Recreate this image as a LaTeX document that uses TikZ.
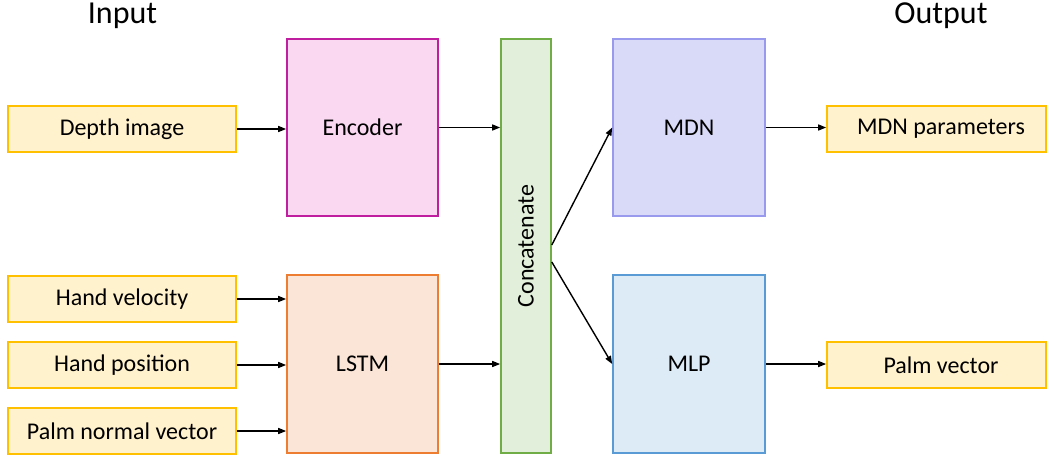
\documentclass[tikz,border=0pt]{standalone}
\usepackage{fontspec}
\setmainfont{Carlito}
\usetikzlibrary{arrows.meta}
\definecolor{inFill}{HTML}{FFF2CC}
\definecolor{inDraw}{HTML}{FFC000}
\definecolor{encFill}{HTML}{FAD8F2}
\definecolor{encDraw}{HTML}{BF1E9E}
\definecolor{lstmFill}{HTML}{FBE5D6}
\definecolor{lstmDraw}{HTML}{ED7D31}
\definecolor{catFill}{HTML}{E2EFDA}
\definecolor{catDraw}{HTML}{70AD47}
\definecolor{mdnFill}{HTML}{D9D9F8}
\definecolor{mdnDraw}{HTML}{9999EE}
\definecolor{mlpFill}{HTML}{DDEBF7}
\definecolor{mlpDraw}{HTML}{5B9BD5}
\tikzset{
  iobox/.style={draw=inDraw, fill=inFill, line width=1.6pt, minimum width=228pt, minimum height=46pt, inner sep=0pt, font=\fontsize{24}{28}\selectfont},
  blockbox/.style={line width=1.6pt, minimum width=151pt, minimum height=177pt, inner sep=0pt, font=\fontsize{24}{28}\selectfont},
  title/.style={font=\fontsize{32}{38}\selectfont, inner sep=0pt},
  conn/.style={line width=1.4pt, -{Triangle[length=8pt,width=6pt]}}
}
\begin{document}
\begin{tikzpicture}[x=1pt,y=-1pt]
\useasboundingbox (0,0) rectangle (1049,456);
\node[title] (tin) at (122.5,16) {Input};
\node[title] (tout) at (941,16) {Output};
\node[iobox] (depth) at (122,129) {Depth image};
\node[iobox] (hv) at (122,299) {Hand velocity};
\node[iobox] (hp) at (122,365) {Hand position};
\node[iobox] (pn) at (122,431) {Palm normal vector};
\node[blockbox, draw=encDraw, fill=encFill] (enc) at (362.5,127.5) {Encoder};
\node[blockbox, draw=lstmDraw, fill=lstmFill, minimum height=178pt] (lstm) at (362.5,364) {LSTM};
\node[blockbox, draw=catDraw, fill=catFill, minimum width=50pt, minimum height=414pt] (cat) at (526,246) {};
\node[rotate=90, inner sep=0pt, font=\fontsize{24}{28}\selectfont] (catlabel) at (cat.center) {Concatenate};
\node[blockbox, draw=mdnDraw, fill=mdnFill, minimum width=152pt] (mdn) at (689,127.5) {MDN};
\node[blockbox, draw=mlpDraw, fill=mlpFill, minimum width=152pt, minimum height=178pt] (mlp) at (689,364) {MLP};
\node[iobox, minimum width=219pt] (mdnp) at (936.5,129) {\hspace*{9pt}MDN parameters};
\node[iobox, minimum width=219pt] (palm) at (936.5,365) {\hspace*{9pt}Palm vector};
\draw[conn] (depth.east) -- (depth.east -| enc.west);
\draw[conn] (hv.east) -- (hv.east -| lstm.west);
\draw[conn] (hp.east) -- (hp.east -| lstm.west);
\draw[conn] (pn.east) -- (pn.east -| lstm.west);
\draw[conn] (enc.east) -- (enc.east -| cat.west);
\draw[conn] (lstm.east) -- (lstm.east -| cat.west);
\draw[conn] ([yshift=1pt]cat.east) -- (mdn.west);
\draw[conn] ([yshift=-16pt]cat.east) -- (mlp.west);
\draw[conn] (mdn.east) -- (mdn.east -| mdnp.west);
\draw[conn] (mlp.east) -- (mlp.east -| palm.west);
\end{tikzpicture}
\end{document}
